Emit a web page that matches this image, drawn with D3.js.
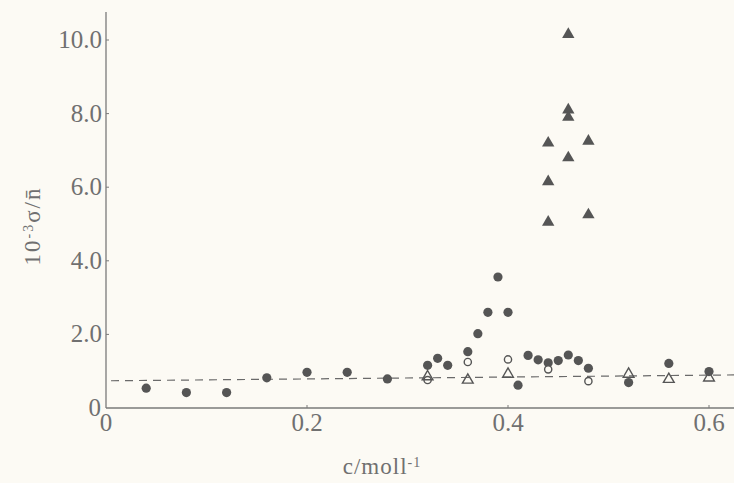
<!DOCTYPE html>
<html>
<head>
<meta charset="utf-8">
<script src="https://cdn.jsdelivr.net/npm/d3@7"></script>
<style>
  body { margin: 0; background: #fcfaf4; }
  svg { display: block; }
  text { font-family: "Times New Roman", Times, "Liberation Serif", serif; fill: #707070; }
</style>
</head>
<body>
<div id="chart"></div>
<script>
// filled circles
const filledX = [0.04, 0.08, 0.12, 0.16, 0.20, 0.24, 0.28, 0.32, 0.33, 0.34, 0.36, 0.37, 0.38, 0.39,
  0.40, 0.41, 0.42, 0.43, 0.44, 0.45, 0.46, 0.47, 0.48, 0.52, 0.56, 0.60];
const filledY = [0.54, 0.42, 0.42, 0.82, 0.97, 0.97, 0.79, 1.16, 1.35, 1.16, 1.53, 2.02, 2.6, 3.56,
  2.6, 0.62, 1.43, 1.31, 1.23, 1.29, 1.44, 1.29, 1.08, 0.69, 1.21, 0.99];

// open circles
const openX = [0.32, 0.36, 0.40, 0.44, 0.48];
const openY = [0.76, 1.25, 1.32, 1.05, 0.73];

// open triangles
const openTriX = [0.32, 0.36, 0.40, 0.52, 0.56, 0.60];
const openTriY = [0.85, 0.76, 0.92, 0.92, 0.78, 0.82];

// filled triangles
const triX = [0.44, 0.44, 0.44, 0.46, 0.46, 0.46, 0.46, 0.48, 0.48];
const triY = [7.2, 6.15, 5.05, 10.15, 8.1, 7.9, 6.8, 7.25, 5.25];

// dashed reference line (end points)
const dashX = [0.005, 0.63];
const dashY = [0.74, 0.9];

const xTicks = [0, 0.2, 0.4, 0.6];
const yTicks = [0, 2, 4, 6, 8, 10];

const width = 734, height = 483;
const ink = "#555555";
const axisColor = "#7a7a7a";

const svg = d3.select("#chart").append("svg")
  .attr("width", width)
  .attr("height", height);

const x = d3.scaleLinear().domain([0, 0.6]).range([106, 709]);
const y = d3.scaleLinear().domain([0, 10]).range([408, 40]);

// axes lines
svg.append("line")
  .attr("x1", x(0)).attr("x2", width)
  .attr("y1", y(0)).attr("y2", y(0))
  .attr("stroke", axisColor).attr("stroke-width", 1.3);
svg.append("line")
  .attr("x1", x(0)).attr("x2", x(0))
  .attr("y1", y(0)).attr("y2", 12)
  .attr("stroke", axisColor).attr("stroke-width", 1.3);

// y ticks (small, inside) + labels
svg.selectAll(".ytick").data(yTicks.filter(d => d > 0)).join("line")
  .attr("class", "ytick")
  .attr("x1", x(0)).attr("x2", x(0) + 3)
  .attr("y1", d => y(d)).attr("y2", d => y(d))
  .attr("stroke", axisColor);

svg.selectAll(".ylab").data(yTicks).join("text")
  .attr("class", "ylab")
  .attr("x", d => d === 0 ? x(0) - 5 : x(0) - 4)
  .attr("y", d => y(d) + 8)
  .attr("text-anchor", "end")
  .style("font-size", "25px")
  .text(d => d === 0 ? "0" : d3.format(".1f")(d));

// x ticks + labels
svg.selectAll(".xtick").data(xTicks.filter(d => d > 0)).join("line")
  .attr("class", "xtick")
  .attr("x1", d => x(d)).attr("x2", d => x(d))
  .attr("y1", y(0)).attr("y2", y(0) - 3)
  .attr("stroke", axisColor);

svg.selectAll(".xlab").data(xTicks).join("text")
  .attr("class", "xlab")
  .attr("x", d => x(d))
  .attr("y", y(0) + 23)
  .attr("text-anchor", "middle")
  .style("font-size", "25px")
  .text(d => d === 0 ? "0" : d3.format(".1f")(d));

// axis titles
const xt = svg.append("text")
  .attr("x", 382).attr("y", 474)
  .attr("text-anchor", "middle")
  .style("font-size", "23px")
  .style("letter-spacing", "1px");
xt.append("tspan").text("c/moll");
xt.append("tspan").attr("dy", -7).style("font-size", "14px").text("-1");

const yt = svg.append("text")
  .attr("transform", "translate(40,226) rotate(-90)")
  .attr("text-anchor", "middle")
  .style("font-size", "23px")
  .style("letter-spacing", "2px");
yt.append("tspan").text("10");
yt.append("tspan").attr("dy", -7).style("font-size", "14px").text("-3");
yt.append("tspan").attr("dy", 7).text("σ/n̄");

// dashed line
svg.append("line")
  .attr("x1", x(dashX[0])).attr("x2", x(dashX[1]))
  .attr("y1", y(dashY[0])).attr("y2", y(dashY[1]))
  .attr("stroke", "#6a6a6a").attr("stroke-width", 1.2)
  .attr("stroke-dasharray", "8,6");

// filled circles
svg.selectAll(".fc").data(d3.range(filledX.length)).join("circle")
  .attr("class", "fc")
  .attr("cx", i => x(filledX[i]))
  .attr("cy", i => y(filledY[i]))
  .attr("r", 4.6)
  .attr("fill", ink);

// open circles
svg.selectAll(".oc").data(d3.range(openX.length)).join("circle")
  .attr("class", "oc")
  .attr("cx", i => x(openX[i]))
  .attr("cy", i => y(openY[i]))
  .attr("r", 3.6)
  .attr("fill", "#fcfaf4")
  .attr("stroke", ink).attr("stroke-width", 1.4);

// open triangles
svg.selectAll(".ot").data(d3.range(openTriX.length)).join("path")
  .attr("class", "ot")
  .attr("d", d3.symbol().type(d3.symbolTriangle).size(50))
  .attr("transform", i => `translate(${x(openTriX[i])},${y(openTriY[i])})`)
  .attr("fill", "none")
  .attr("stroke", ink).attr("stroke-width", 1.4);

// filled triangles
svg.selectAll(".ft").data(d3.range(triX.length)).join("path")
  .attr("class", "ft")
  .attr("d", d3.symbol().type(d3.symbolTriangle).size(66))
  .attr("transform", i => `translate(${x(triX[i])},${y(triY[i])})`)
  .attr("fill", ink);
</script>
</body>
</html>
